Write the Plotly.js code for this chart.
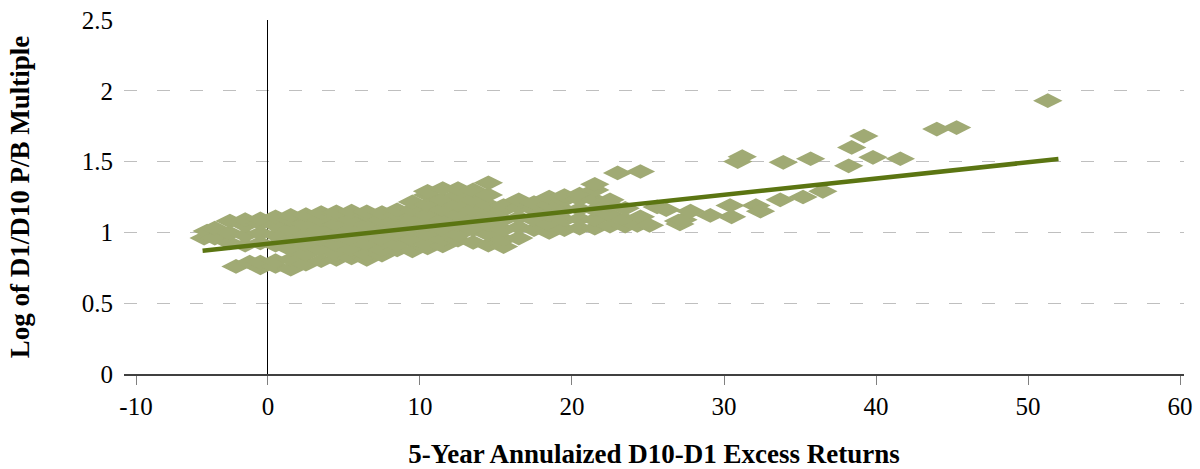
<!DOCTYPE html>
<html>
<head>
<meta charset="utf-8">
<script src="https://cdn.plot.ly/plotly-3.0.1.min.js"></script>
<style>
  html, body { margin: 0; padding: 0; background: #fff; }
  #chart { width: 1200px; height: 469px; }
</style>
</head>
<body>
<div id="chart"></div>
<script>
// 5-year annualized D10-D1 excess returns (x) and log of D1/D10 P/B multiple (y)
const excessReturns = [
  -4.2, -4.0,
  -3.5, -3.5,
  -2.5, -2.5, -2.5, -2.1,
  -1.5, -1.5, -1.5, -1.5, -1.2,
  -0.5, -0.5, -0.5, -0.5, -0.5, -0.5,
  0.5, 0.5, 0.5, 0.5, 0.5, 0.5,
  1.5, 1.5, 1.5, 1.5, 1.5, 1.5, 1.5,
  2.5, 2.5, 2.5, 2.5, 2.5, 2.5,
  3.5, 3.5, 3.5, 3.5, 3.5, 3.5,
  4.5, 4.5, 4.5, 4.5, 4.5, 4.5, 4.5,
  5.5, 5.5, 5.5, 5.5, 5.5, 5.5,
  6.5, 6.5, 6.5, 6.5, 6.5, 6.5, 6.5,
  7.5, 7.5, 7.5, 7.5, 7.5, 7.5,
  8.5, 8.5, 8.5, 8.5, 8.5, 8.5,
  9.5, 9.5, 9.5, 9.5, 9.5, 9.5,
  10.5, 10.5, 10.5, 10.5, 10.5, 10.5, 10.5, 10.5,
  11.5, 11.5, 11.5, 11.5, 11.5, 11.5, 11.5,
  12.5, 12.5, 12.5, 12.5, 12.5, 12.5, 12.5,
  13.5, 13.5, 13.5, 13.5, 13.5, 13.5,
  14.5, 14.5, 14.5, 14.5, 14.5, 14.5, 14.5,
  15.5, 15.5, 15.5, 15.5, 15.5, 15.5,
  16.5, 16.5, 16.5, 16.5, 16.5,
  17.5, 17.5, 17.5, 17.5,
  18.5, 18.5, 18.5, 18.5, 18.5,
  19.5, 19.5, 19.5, 19.5, 19.5,
  20.5, 20.5, 20.5, 20.5, 20.5,
  21.5, 21.5, 21.5, 21.5, 21.5, 21.5,
  22.5, 22.5, 22.5, 22.5,
  23.5, 23.5, 23.5,
  23.0, 24.5,
  24.3, 24.5, 25.1, 25.6, 26.2, 27.0, 27.1, 27.3, 27.8, 29.1,
  30.4, 30.5, 32.1, 32.4, 33.7, 35.2, 36.5,
  30.9, 31.2, 33.9, 35.7, 38.2, 38.4, 39.2, 39.8, 41.6,
  44.0, 45.3, 51.3
];
const logPBMultiple = [
  0.96, 1.01,
  0.96, 1.03,
  0.925, 0.995, 1.08, 0.76,
  0.91, 0.98, 1.05, 1.09, 0.79,
  0.925, 0.995, 1.065, 1.095, 0.75, 0.79,
  0.91, 0.98, 1.05, 1.11, 0.76, 0.80,
  0.74, 0.81, 0.88, 0.95, 1.02, 1.09, 1.12,
  0.775, 0.845, 0.915, 0.985, 1.055, 1.125,
  0.80, 0.88, 0.95, 1.02, 1.09, 1.14,
  0.81, 0.845, 0.915, 0.985, 1.055, 1.125, 1.145,
  0.82, 0.88, 0.95, 1.02, 1.09, 1.15,
  0.81, 0.845, 0.915, 0.985, 1.055, 1.125, 1.145,
  0.84, 0.88, 0.95, 1.02, 1.09, 1.14,
  0.876, 0.915, 0.985, 1.055, 1.125, 1.16,
  0.87, 0.95, 1.02, 1.09, 1.16, 1.215,
  0.89, 0.915, 0.985, 1.055, 1.125, 1.195, 1.265, 1.29,
  0.904, 0.95, 1.02, 1.09, 1.16, 1.23, 1.31,
  0.946, 0.985, 1.055, 1.125, 1.195, 1.265, 1.31,
  0.93, 1.02, 1.09, 1.16, 1.23, 1.30,
  0.91, 0.985, 1.055, 1.125, 1.195, 1.265, 1.35,
  0.90, 0.95, 1.02, 1.09, 1.16, 1.19,
  0.96, 1.035, 1.105, 1.175, 1.23,
  1.02, 1.09, 1.16, 1.21,
  1.00, 1.055, 1.125, 1.195, 1.25,
  1.02, 1.09, 1.16, 1.23, 1.26,
  1.03, 1.095, 1.165, 1.235, 1.27,
  1.03, 1.09, 1.16, 1.23, 1.30, 1.34,
  1.045, 1.125, 1.195, 1.23,
  1.045, 1.09, 1.17,
  1.42, 1.43,
  1.05, 1.11, 1.05, 1.18, 1.16, 1.08, 1.06, 1.09, 1.15, 1.12,
  1.19, 1.11, 1.19, 1.15, 1.23, 1.25, 1.29,
  1.50, 1.535, 1.495, 1.52, 1.47, 1.60, 1.68, 1.53, 1.52,
  1.73, 1.74, 1.93
];

// Linear trend line end points
const trendX = [-4.3, 52.0];
const trendY = [0.871, 1.518];

// Axis tick labels
const xTickVals = [-8.68, 0, 10, 20, 30, 40, 50, 60];
const xTickText = ["-10", "0", "10", "20", "30", "40", "50", "60"];
const yTickVals = [0, 0.5, 1, 1.5, 2, 2.5];
const yTickText = ["0", "0.5", "1", "1.5", "2", "2.5"];

const FONT = "'Liberation Serif', 'Times New Roman', serif";

const data = [
  {
    type: "scatter",
    mode: "markers",
    x: excessReturns,
    y: logPBMultiple,
    marker: { symbol: "diamond-wide", size: 21, color: "#A0AA74", line: { width: 0 } },
    hoverinfo: "x+y",
    showlegend: false
  },
  {
    type: "scatter",
    mode: "lines",
    x: trendX,
    y: trendY,
    line: { color: "#5B7512", width: 4.5 },
    showlegend: false
  }
];

const layout = {
  width: 1200,
  height: 469,
  margin: { l: 124, r: 16, t: 20, b: 95 },
  paper_bgcolor: "#ffffff",
  plot_bgcolor: "#ffffff",
  font: { family: FONT, size: 25, color: "#000000" },
  showlegend: false,
  xaxis: {
    range: [-9.47, 60.26],
    tickmode: "array",
    tickvals: xTickVals,
    ticktext: xTickText,
    ticks: "outside",
    ticklen: 9,
    tickwidth: 1,
    tickcolor: "#808080",
    showline: true,
    linecolor: "#404040",
    linewidth: 1.5,
    showgrid: false,
    zeroline: true,
    zerolinecolor: "#000000",
    zerolinewidth: 1,
    tickfont: { family: FONT, size: 25, color: "#000000" },
    title: {
      text: "<b>5-Year Annulaized D10-D1 Excess Returns</b>",
      font: { family: FONT, size: 27, color: "#000000" },
      standoff: 27
    },
    fixedrange: true
  },
  yaxis: {
    range: [0, 2.5],
    tickmode: "array",
    tickvals: yTickVals,
    ticktext: yTickText,
    ticks: "",
    ticklabelstandoff: 10,
    showline: false,
    showgrid: true,
    gridcolor: "#BFBFBF",
    gridwidth: 1.3,
    griddash: "13px,20px",
    zeroline: false,
    tickfont: { family: FONT, size: 25, color: "#000000" },
    title: {
      text: "<b>Log of D1/D10 P/B Multiple</b>",
      font: { family: FONT, size: 27, color: "#000000" },
      standoff: 44
    },
    fixedrange: true
  }
};

Plotly.newPlot("chart", data, layout, { displayModeBar: false, staticPlot: true });
</script>
</body>
</html>
